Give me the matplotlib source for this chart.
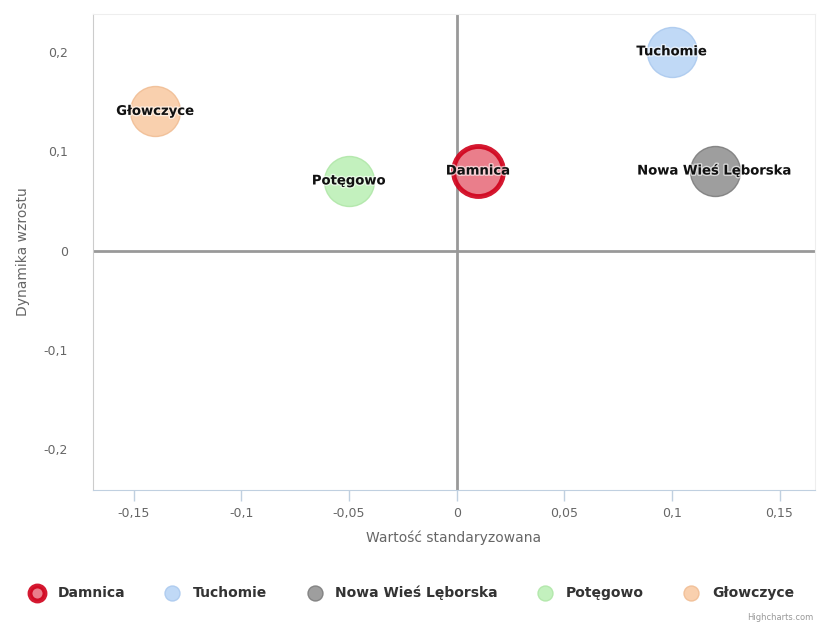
import matplotlib.pyplot as plt
import matplotlib.patheffects as pe
from matplotlib.ticker import FuncFormatter

# data
names  = ['Damnica', 'Tuchomie', 'Nowa Wieś Lęborska', 'Potęgowo', 'Głowczyce']
x_vals = [0.01, 0.10, 0.12, -0.05, -0.14]
y_vals = [0.08, 0.20, 0.08, 0.07, 0.14]
fills  = ['#e8707f', '#b5d3f5', '#8d8d8d', '#b9efb3', '#f8c8a0']
edges  = ['#d0001a', '#a9c8ee', '#7a7a7a', '#aee6a6', '#f0bc92']

x_ticks = [-0.15, -0.1, -0.05, 0, 0.05, 0.1, 0.15]
y_ticks = [-0.2, -0.1, 0, 0.1, 0.2]

fig = plt.figure(figsize=(8.17, 6.30), dpi=100)
ax = fig.add_axes([0.1138, 0.2222, 0.8838, 0.7556])

for i in range(len(names)):
    lw = 3.5 if i == 0 else 1
    ax.scatter(x_vals[i], y_vals[i], s=1296, color=fills[i], edgecolors=edges[i],
               linewidths=lw, alpha=0.9 if i == 0 else 0.85, zorder=3, label=names[i])
    ax.text(x_vals[i], y_vals[i], names[i], ha='center', va='center', fontsize=9.5,
            fontweight='bold', color='#111111', zorder=4,
            path_effects=[pe.withStroke(linewidth=2, foreground='white', alpha=0.6)])

ax.axvline(0, color='#999999', lw=2, zorder=1)
ax.axhline(0, color='#999999', lw=2, zorder=1)

ax.set_xlim(-0.169, 0.1665)
ax.set_ylim(-0.241, 0.238)

fmt = FuncFormatter(lambda v, p: ('%g' % round(v, 3)).replace('.', ','))
ax.set_xticks(x_ticks)
ax.set_yticks(y_ticks)
ax.xaxis.set_major_formatter(fmt)
ax.yaxis.set_major_formatter(fmt)
ax.tick_params(axis='x', colors='#c0d0e0', length=8, width=1, labelcolor='#666666',
               labelsize=9, pad=4)
ax.tick_params(axis='y', length=0, labelcolor='#666666', labelsize=9, pad=18)

for side in ['top', 'right']:
    ax.spines[side].set_color('#eeeeee')
ax.spines['left'].set_color('#cccccc')
ax.spines['bottom'].set_color('#c0d0e0')

ax.set_xlabel('Wartość standaryzowana', color='#666666', fontsize=10, labelpad=8)
ax.set_ylabel('Dynamika wzrostu', color='#666666', fontsize=10, labelpad=10)

leg = fig.legend(loc='center', bbox_to_anchor=(0.5, 0.059), ncol=5, frameon=False,
                 markerscale=0.3, handletextpad=0.5, columnspacing=2.4, fontsize=10)
for t in leg.get_texts():
    t.set_color('#333333')
    t.set_fontweight('bold')

fig.text(0.995, 0.012, 'Highcharts.com', ha='right', va='bottom', fontsize=6, color='#999999')

plt.savefig('out.png', dpi=100)
